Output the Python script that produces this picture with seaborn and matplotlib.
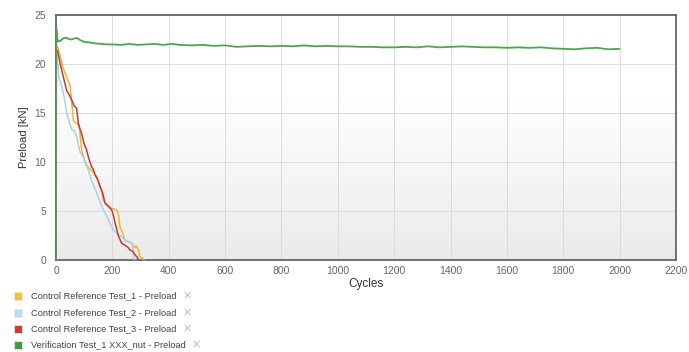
import numpy as np
import matplotlib
matplotlib.use("Agg")
import matplotlib.pyplot as plt
import seaborn as sns
from matplotlib.colors import LinearSegmentedColormap
from matplotlib.patches import Rectangle

# series
names = ["Control Reference Test_1 - Preload",
         "Control Reference Test_2 - Preload",
         "Control Reference Test_3 - Preload",
         "Verification Test_1 XXX_nut - Preload"]
line_colors = ["#f0b52c", "#a9d0ef", "#c33a34", "#4aa84a"]
box_colors = ["#f2c13f", "#bcdcf3", "#cc3b3b", "#3f9f3f"]

test1_x = [5, 15, 25, 40, 50, 62, 70, 82, 91, 100, 110, 130, 145, 160, 168, 180, 198,
           215, 222, 227, 235, 245, 255, 269, 280, 287, 293, 298, 305, 313]
test1_y = [21.8, 20.8, 19.6, 18.5, 17.8, 14.2, 14.0, 13.8, 11.2, 10.3, 9.6, 9.0, 8.5,
           7.2, 6.1, 5.6, 5.3, 5.1, 4.6, 3.4, 2.9, 2.0, 1.9, 1.7, 1.3, 1.4, 1.0, 0.3, 0.2, 0.0]

test2_x = [3, 10, 20, 30, 38, 48, 56, 66, 75, 85, 97, 105, 115, 125, 135, 145, 155, 168,
           180, 192, 205, 221, 235, 251, 262, 269, 273, 275, 278]
test2_y = [21.0, 18.7, 17.8, 16.5, 15.0, 14.0, 13.3, 13.2, 12.4, 11.0, 10.5, 9.8, 9.2,
           8.2, 7.5, 6.8, 6.0, 5.1, 4.5, 3.7, 3.0, 2.6, 2.3, 1.9, 1.8, 1.7, 1.3, 0.3, 0.0]

test3_x = [5, 15, 25, 38, 48, 56, 65, 73, 80, 91, 100, 107, 115, 125, 133, 140, 148, 156,
           165, 174, 185, 198, 205, 210, 215, 221, 233, 245, 255, 263, 272, 281, 288, 292]
test3_y = [21.4, 20.0, 18.8, 17.3, 16.8, 16.3, 15.7, 15.5, 13.8, 12.9, 11.8, 11.4, 10.5,
           9.6, 9.2, 8.6, 8.2, 7.5, 6.9, 5.8, 5.5, 5.1, 4.4, 3.7, 3.2, 2.5, 1.7, 1.5, 1.3,
           1.0, 0.9, 0.5, 0.3, 0.0]

verif_x = [0, 1, 6, 15, 25, 35, 45, 55, 65, 75, 85, 100, 120, 140, 160, 180, 200, 230,
           260, 290, 320, 350, 380, 410, 440, 480, 520, 560, 600, 640, 680, 720, 760, 800,
           840, 880, 920, 960, 1000, 1040, 1080, 1120, 1160, 1200, 1240, 1280, 1320, 1360,
           1400, 1440, 1480, 1520, 1560, 1600, 1640, 1680, 1720, 1760, 1800, 1840, 1880,
           1920, 1960, 2000]
verif_y = [0.0, 23.7, 22.3, 22.35, 22.6, 22.7, 22.55, 22.5, 22.6, 22.65, 22.45, 22.25,
           22.2, 22.1, 22.05, 22.0, 22.0, 21.95, 22.05, 21.95, 22.0, 22.05, 21.95, 22.05,
           21.95, 21.9, 21.95, 21.85, 21.9, 21.75, 21.8, 21.85, 21.8, 21.85, 21.8, 21.9,
           21.8, 21.85, 21.8, 21.8, 21.75, 21.75, 21.7, 21.7, 21.75, 21.7, 21.8, 21.7,
           21.75, 21.8, 21.75, 21.7, 21.7, 21.65, 21.7, 21.65, 21.7, 21.6, 21.55, 21.5,
           21.6, 21.65, 21.5, 21.55]

x_ticks = list(range(0, 2201, 200))
y_ticks = [0, 5, 10, 15, 20, 25]

sns.set_style("white")
plt.rcParams['font.family'] = ['Liberation Sans', 'DejaVu Sans']

fig = plt.figure(figsize=(6.89, 3.52), dpi=100)
W, H = 689, 352
ax = fig.add_axes([56 / W, 1 - 260 / H, 620 / W, 245 / H])

# plot-area background: white at top fading to light grey
bg = LinearSegmentedColormap.from_list("bg", ["#eaeaea", "#f5f5f5", "#ffffff", "#ffffff"])
ax.imshow(np.linspace(0, 1, 256).reshape(-1, 1), cmap=bg, origin="lower",
          extent=[0, 1, 0, 1], transform=ax.transAxes, aspect="auto", zorder=0)

series = [(test1_x, test1_y), (test2_x, test2_y), (test3_x, test3_y), (verif_x, verif_y)]
widths = [1.1, 1.1, 1.1, 1.3]
for (xs, ys), c, w in zip(series, line_colors, widths):
    sns.lineplot(x=xs, y=ys, ax=ax, color=c, lw=w, sort=False, estimator=None,
                 legend=False, zorder=3)

ax.set_xlim(0, 2200)
ax.set_ylim(0, 25)
ax.set_xticks(x_ticks)
ax.set_yticks(y_ticks)
ax.grid(True, color="#dcdcdc", lw=0.7)
ax.set_axisbelow(True)
for sp in ax.spines.values():
    sp.set_color("#666666")
    sp.set_linewidth(1.3)
    sp.set_visible(True)
ax.tick_params(length=0, labelsize=7.5, labelcolor="#666666")
ax.tick_params(axis="y", pad=7)
ax.tick_params(axis="x", pad=4)
ax.set_xlabel("Cycles", fontsize=8.5, color="#333333", labelpad=2)
ax.set_ylabel("Preload [kN]", fontsize=8, color="#333333", labelpad=4)

# legend rows below the chart
rows = [296, 312.5, 329, 344.5]
renderer = fig.canvas.get_renderer()
for name, c, yy in zip(names, box_colors, rows):
    fig.add_artist(Rectangle((14 / W, 1 - (yy + 4) / H), 8 / W, 8 / H,
                             transform=fig.transFigure, facecolor=c,
                             edgecolor="#e8e8e8", lw=0.6))
    t = fig.text(31 / W, 1 - yy / H, name, fontsize=6.7, color="#444444", va="center")
    bb = t.get_window_extent(renderer)
    fig.text((bb.x1 + 6) / W, 1 - yy / H, "\u2715", fontsize=8, color="#c0c0c0",
             va="center", family=["DejaVu Sans"], fontweight="bold")

fig.savefig("out.png", dpi=100)
